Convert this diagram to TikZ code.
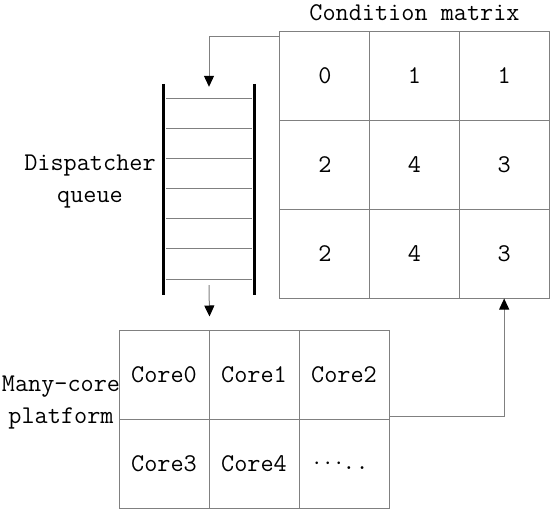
\documentclass[tikz,border=0pt]{standalone}
\usetikzlibrary{arrows.meta}
\begin{document}
\begin{tikzpicture}[x = 1pt, y = -1pt,
        every node/.style = {font = \fontsize{25.5}{32}\selectfont\ttfamily},
        cell/.style = {draw = gray, line width = 1pt, minimum width = 89.67pt, minimum height = 89pt, inner sep = 0pt},
        core/.style = {draw = gray, line width = 1pt, minimum width = 90pt, minimum height = 89pt, inner sep = 0pt},
        rail/.style = {line width = 3pt},
        slot/.style = {draw = gray, line width = 1pt},
        link/.style = {draw = gray, line width = 1pt, -{Triangle[width = 10pt, length = 11pt, color = black]}}]
            \useasboundingbox (0, 0) rectangle (550, 509);
            \node [anchor = base] (title) at (414.5, 20) {Condition matrix};
            \node [cell] (m11) at (324.83, 75.5) {0};
            \node [cell] (m12) at (414.5, 75.5) {1};
            \node [cell] (m13) at (504.17, 75.5) {1};
            \node [cell] (m21) at (324.83, 164.5) {2};
            \node [cell] (m22) at (414.5, 164.5) {4};
            \node [cell] (m23) at (504.17, 164.5) {3};
            \node [cell] (m31) at (324.83, 253.5) {2};
            \node [cell] (m32) at (414.5, 253.5) {4};
            \node [cell] (m33) at (504.17, 253.5) {3};

            \node [minimum width = 90pt, minimum height = 201pt, inner sep = 0pt] (queue) at (209, 184.5) {};
            \draw [rail] (queue.north west) -- ([yshift = -10pt]queue.south west);
            \draw [rail] (queue.north east) -- ([yshift = -10pt]queue.south east);
            \draw [slot] (166, 98) -- (252, 98);
            \draw [slot] (166, 128) -- (252, 128);
            \draw [slot] (166, 158) -- (252, 158);
            \draw [slot] (166, 188) -- (252, 188);
            \draw [slot] (166, 218) -- (252, 218);
            \draw [slot] (166, 248) -- (252, 248);
            \draw [slot] (166, 279) -- (252, 279);
            \node [align = center, anchor = base] (dq) at (90, 202) {Dispatcher\\queue};

            \node [core] (c0) at (164, 374.5) {Core0};
            \node [core] (c1) at (254, 374.5) {Core1};
            \node [core] (c2) at (344, 374.5) {Core2};
            \node [core] (c3) at (164, 463.5) {Core3};
            \node [core] (c4) at (254, 463.5) {Core4};
            \node [core] (c5) at (344, 463.5) {\kern-6pt$\cdots$..};
            \node [align = center, anchor = base] (mc) at (61, 423) {Many-core\\platform};

            \draw [link] ([yshift = -6pt]m11.north west) -| ([yshift = -3pt]queue.north);
            \draw [link] (queue.south) -- ([yshift = 13pt]c0.north east);
            \draw [link] ([yshift = 3pt]c2.south east) -| (m33.south);
        \end{tikzpicture}
\end{document}
